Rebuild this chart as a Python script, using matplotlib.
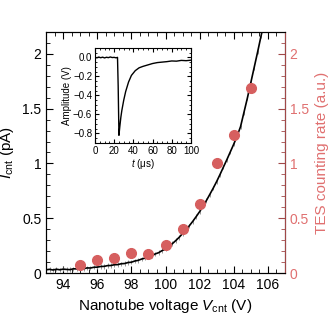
import numpy as np
import matplotlib
matplotlib.use("Agg")
import matplotlib.pyplot as plt
from matplotlib.ticker import MultipleLocator

plt.rcParams['font.family'] = ['Liberation Sans', 'DejaVu Sans']
plt.rcParams['mathtext.fontset'] = 'custom'
plt.rcParams['mathtext.rm'] = 'Liberation Sans'
plt.rcParams['mathtext.it'] = 'Liberation Sans:italic'

# nanotube current (black trace)
v_cnt = [93.0, 93.2, 93.4, 93.6, 93.8, 94.0, 94.2, 94.4, 94.6, 94.8,
         95.0, 95.2, 95.4, 95.6, 95.8, 96.0, 96.2, 96.4, 96.6, 96.8,
         97.0, 97.2, 97.4, 97.6, 97.8, 98.0, 98.2, 98.4, 98.6, 98.8,
         99.0, 99.2, 99.4, 99.6, 99.8, 100.0, 100.2, 100.4, 100.6, 100.8,
         101.0, 101.2, 101.4, 101.6, 101.8, 102.0, 102.2, 102.4, 102.6, 102.8,
         103.0, 103.2, 103.4, 103.6, 103.8, 104.0, 104.2, 104.4, 104.6, 104.8,
         105.0, 105.2, 105.4, 105.6, 105.8]
i_cnt = [0.030, 0.034, 0.028, 0.035, 0.030, 0.036, 0.033, 0.031, 0.039, 0.038,
         0.044, 0.040, 0.047, 0.046, 0.053, 0.054, 0.060, 0.061, 0.068, 0.069,
         0.076, 0.077, 0.085, 0.087, 0.096, 0.099, 0.110, 0.116, 0.128, 0.136,
         0.150, 0.158, 0.175, 0.186, 0.205, 0.218, 0.244, 0.268, 0.296, 0.326,
         0.360, 0.395, 0.432, 0.472, 0.515, 0.560, 0.610, 0.662, 0.718, 0.775,
         0.835, 0.900, 0.968, 1.035, 1.105, 1.175, 1.250, 1.335, 1.465, 1.595,
         1.735, 1.875, 2.015, 2.160, 2.300]
i_err = 0.02

# TES counting rate (red points)
v_tes = [95, 96, 97, 98, 99, 100, 101, 102, 103, 104, 105]
rate_tes = [0.075, 0.12, 0.14, 0.18, 0.17, 0.26, 0.40, 0.63, 1.0, 1.26, 1.69]
rate_err = [0.01, 0.01, 0.01, 0.01, 0.01, 0.015, 0.02, 0.02, 0.035, 0.02, 0.02]

# inset pulse
t_us = [0, 2, 4, 6, 8, 10, 12, 14, 16, 18, 20, 22, 23.5, 24.2, 25,
        26, 27, 28, 30, 32, 35, 38, 42, 46, 50, 55, 60, 65, 70, 75, 80, 85, 90, 95, 100]
amp_v = [0.0, -0.005, 0.003, -0.004, 0.002, -0.006, 0.001, -0.003, 0.004, -0.002, 0.0, -0.005, 0.0, -0.3, -0.82,
         -0.72, -0.63, -0.56, -0.45, -0.36, -0.26, -0.19, -0.14, -0.11, -0.095, -0.08, -0.065, -0.055, -0.05,
         -0.045, -0.038, -0.04, -0.032, -0.035, -0.03]

red = '#d65f5f'
red_text = '#e07070'
red_spine = '#a04848'

fig = plt.figure(figsize=(3.32, 3.19), dpi=100)
ax = fig.add_axes([0.139, 0.144, 0.719, 0.756])
ax.errorbar(v_cnt, i_cnt, yerr=i_err, fmt='none', ecolor='#999999', elinewidth=0.7)
ax.plot(v_cnt, i_cnt, color='black', lw=1.2)
ax.set_xlim(93, 107)
ax.set_ylim(0, 2.2)
ax.xaxis.set_major_locator(MultipleLocator(2))
ax.xaxis.set_minor_locator(MultipleLocator(0.5))
ax.yaxis.set_major_locator(MultipleLocator(0.5))
ax.yaxis.set_minor_locator(MultipleLocator(0.1))
ax.set_yticks([0, 0.5, 1, 1.5, 2])
ax.set_yticklabels(['0', '0.5', '1', '1.5', '2'])
ax.tick_params(which='both', direction='in', top=True, labelsize=10)
ax.tick_params(which='major', length=5)
ax.tick_params(which='minor', length=3)
ax.set_xlabel(r'Nanotube voltage $V_{\rm cnt}$ (V)', fontsize=11)
ax.set_ylabel(r'$I_{\rm cnt}$ (pA)', fontsize=11)

ax2 = ax.twinx()
ax2.errorbar(v_tes, rate_tes, yerr=rate_err, fmt='o', color=red, ms=7, elinewidth=1, capsize=0)
ax2.set_ylim(0, 2.2)
ax2.yaxis.set_major_locator(MultipleLocator(0.5))
ax2.yaxis.set_minor_locator(MultipleLocator(0.1))
ax2.set_yticks([0, 0.5, 1, 1.5, 2])
ax2.set_yticklabels(['0', '0.5', '1', '1.5', '2'])
ax2.tick_params(which='both', direction='in', colors=red_spine, labelcolor=red_text, labelsize=10)
ax2.tick_params(which='major', length=5)
ax2.tick_params(which='minor', length=3)
ax2.spines['right'].set_color(red_spine)
ax2.set_ylabel('TES counting rate (a.u.)', color=red_text, fontsize=11)

ins = fig.add_axes([0.286, 0.552, 0.289, 0.298])
ins.plot(t_us, amp_v, color='black', lw=1)
ins.set_xlim(0, 100)
ins.set_ylim(-0.9, 0.1)
ins.xaxis.set_major_locator(MultipleLocator(20))
ins.xaxis.set_minor_locator(MultipleLocator(5))
ins.yaxis.set_major_locator(MultipleLocator(0.2))
ins.yaxis.set_minor_locator(MultipleLocator(0.05))
ins.tick_params(which='both', direction='in', top=True, right=True, labelsize=7, pad=2)
ins.tick_params(which='major', length=3)
ins.tick_params(which='minor', length=1.5)
ins.set_xlabel(r'$t$ (μs)', fontsize=7, labelpad=1)
ins.set_ylabel('Amplitude (V)', fontsize=7, labelpad=1)

fig.savefig('out.png', dpi=100)
